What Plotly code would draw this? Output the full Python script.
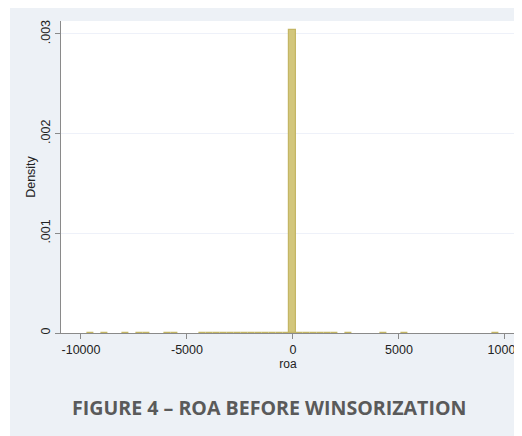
import plotly.graph_objects as go

# Histogram of roa (Stata-style density histogram)
bin_centers = [-9570, -8910, -7920, -7260, -6930, -5940, -5610,
               -4290, -3960, -3630, -3300, -2970, -2640, -2310, -1980,
               -1650, -1320, -990, -660, -330, 0, 330, 660, 990, 1320,
               1650, 1980, 2640, 4290, 5280, 9570]
densities = [0.000004, 0.000004, 0.000004, 0.000004, 0.000004, 0.000004, 0.000004,
             0.000004, 0.000004, 0.000004, 0.000004, 0.000004, 0.000004, 0.000004, 0.000004,
             0.000004, 0.000004, 0.000004, 0.000004, 0.000004, 0.00304, 0.000004, 0.000004,
             0.000004, 0.000004, 0.000004, 0.000004, 0.000004, 0.000004, 0.000004, 0.000004]
bin_width = 330

x_ticks = [-10000, -5000, 0, 5000, 10000]
x_tick_labels = ["-10000", "-5000", "0", "5000", "10000"]
y_ticks = [0, 0.001, 0.002, 0.003]
y_tick_labels = ["0", ".001", ".002", ".003"]

title_text = "FIGURE 4 \u2013 ROA BEFORE WINSORIZATION"

BG = "#edf1f6"
BAR_FILL = "#d2c67c"
BAR_LINE = "#c4b665"
AXIS = "#8a8a8a"
TXT = "#222222"

# the page body adds an 8px white margin on the top and left
W, H = 514, 428
L, R, T, B = 53, 7, 13, 103
pw, ph = W - L - R, H - T - B


def px_x(p):
    return (p - L) / pw


def px_y(p):
    return 1 - (p - T) / ph


fig = go.Figure()
fig.add_trace(go.Bar(
    x=bin_centers, y=densities, width=bin_width,
    marker=dict(color=BAR_FILL, line=dict(color=BAR_LINE, width=1.2)),
    hoverinfo="skip", showlegend=False,
))

# thin white strip on the far left (reference has a slightly wider white edge)
fig.add_shape(type="rect", xref="paper", yref="paper", layer="above",
              x0=px_x(-2), x1=px_x(2), y0=px_y(-2), y1=px_y(H + 2),
              fillcolor="white", line=dict(width=0))

fig.add_annotation(text=title_text, xref="paper", yref="paper",
                   x=px_x(260.5), y=px_y(399), xanchor="center", yanchor="middle",
                   showarrow=False,
                   font=dict(family="Open Sans", size=19.6, color="#5a5a5a", weight="bold"))

fig.update_layout(
    width=W, height=H,
    margin=dict(l=L, r=R, t=T, b=B, pad=0),
    paper_bgcolor=BG, plot_bgcolor="white",
    bargap=0,
    font=dict(family="Liberation Sans, Arial, sans-serif", color=TXT, size=12.5),
    xaxis=dict(range=[-10943, 10472], tickmode="array", tickvals=x_ticks,
               ticktext=x_tick_labels, ticks="outside", ticklen=5, tickcolor=AXIS,
               tickwidth=1, showline=True, linecolor=AXIS, linewidth=1,
               showgrid=False, zeroline=False, automargin=False,
               ticklabeloverflow="allow",
               title=dict(text="roa", font=dict(size=12), standoff=0)),
    yaxis=dict(range=[0, 0.00313], tickmode="array", tickvals=y_ticks,
               ticktext=y_tick_labels, tickangle=-90, ticks="outside", ticklen=5,
               tickcolor=AXIS, tickwidth=1, showline=True, linecolor=AXIS, linewidth=1,
               showgrid=True, gridcolor="#eef1f9", gridwidth=1, zeroline=False,
               automargin=False,
               title=dict(text="Density", font=dict(size=12.5), standoff=0)),
)

fig.write_html("out.html")
